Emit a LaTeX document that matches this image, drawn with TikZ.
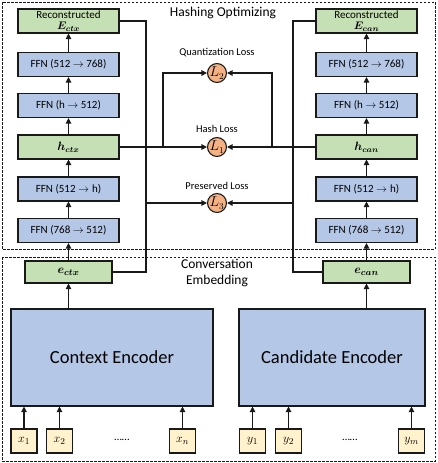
\documentclass[tikz,border=0pt]{standalone}
\usepackage{amsmath,amssymb,bm}
\usepackage{fontspec}
\setmainfont{Carlito}
\usepackage{tikz}
\usetikzlibrary{positioning,arrows.meta}
\usepackage{xcolor}

\definecolor{ffnblue}{HTML}{B4C7E7}
\definecolor{hashgreen}{HTML}{C5E0B4}
\definecolor{lossorange}{HTML}{F4B183}
\definecolor{tokyellow}{HTML}{FFF2CC}

\begin{document}
\begin{tikzpicture}[x=1pt,y=-1pt,>={Triangle[length=5.5pt,width=5.5pt]},line width=1.1pt,draw=black!90,
    ffn/.style={draw,fill=ffnblue,minimum width=101pt,minimum height=24pt,inner sep=0pt,
      font=\fontsize{11}{12}\selectfont},
    hashbox/.style={ffn,fill=hashgreen,align=center},
    embbox/.style={draw,fill=hashgreen,minimum width=87pt,minimum height=22pt,inner sep=0pt,
      font=\fontsize{12.5}{13}\selectfont},
    encbox/.style={draw,fill=ffnblue,minimum height=97pt,inner sep=0pt,
      font=\fontsize{18.5}{20}\selectfont},
    tok/.style={draw,fill=tokyellow,minimum width=26pt,minimum height=24pt,inner sep=0pt,
      font=\fontsize{12.5}{13}\selectfont},
    loss/.style={circle,draw,fill=lossorange,minimum size=18pt,inner sep=0pt,
      font=\fontsize{13.5}{13}\selectfont},
    losslabel/.style={font=\fontsize{10.5}{12}\selectfont},
    title/.style={font=\fontsize{13.5}{16}\selectfont,align=center},
    frame/.style={draw,line width=0.8pt,dash pattern=on 2.5pt off 1.5pt}]
  \useasboundingbox (0,0) rectangle (437,463);
  % dashed frames
  \draw[frame] (2,2) rectangle (435,249);
  \draw[frame] (2,257) rectangle (435,461);
  \node[title] (hashtitle) at (223,13) {Hashing Optimizing};
  \node[title] (embtitle) at (217,273) {Conversation\\Embedding};
  % two hashing columns
  \foreach \side/\cx/\sub in {C/68.5/ctx,K/366.5/can}{
    \node[hashbox] (rec\side) at (\cx,21) {Reconstructed\\[-1pt]$\bm{E}_{\bm{\sub}}$};
    \node[ffn] (fd\side) at (\cx,64.5) {FFN (512 $\rightarrow$ 768)};
    \node[ffn] (fc\side) at (\cx,105.5) {FFN ($\mathrm{h}$ $\rightarrow$ 512)};
    \node[hashbox] (h\side) at (\cx,147) {\fontsize{12}{12}\selectfont$\bm{h}_{\bm{\sub}}$};
    \node[ffn] (fb\side) at (\cx,189) {FFN (512 $\rightarrow\mathrm{h}$)};
    \node[ffn] (fa\side) at (\cx,230.5) {FFN (768 $\rightarrow$ 512)};
    \node[embbox] (e\side) at (\cx,272) {$\bm{e}_{\bm{\sub}}$};
    \draw[->] (e\side) -- (fa\side);
    \draw[->] (fa\side) -- (fb\side);
    \draw[->] (fb\side) -- (h\side);
    \draw[->] (h\side) -- (fc\side);
    \draw[->] (fc\side) -- (fd\side);
    \draw[->] (fd\side) -- (rec\side);
  }
  % encoders
  \node[encbox,minimum width=202pt] (encC) at (112,357.5) {Context Encoder};
  \node[encbox,minimum width=186pt] (encK) at (332,357.5) {Candidate Encoder};
  \draw[->] (eC |- encC.north) -- (eC.south);
  \draw[->] (eK |- encK.north) -- (eK.south);
  % input tokens
  \foreach \nm/\cx/\lab in {x1/24/x_1,x2/59.5/x_2,xn/182.5/x_n}{
    \node[tok] (\nm) at (\cx,441) {$\lab$};
    \draw[->] (\nm) -- (\nm |- encC.south);
  }
  \foreach \nm/\cx/\lab in {y1/252.5/y_1,y2/288.5/y_2,ym/411.5/y_m}{
    \node[tok] (\nm) at (\cx,441) {$\lab$};
    \draw[->] (\nm) -- (\nm |- encK.south);
  }
  \node[font=\fontsize{11}{12}\selectfont] (dotsx) at (122,440) {\ldots\ldots};
  \node[font=\fontsize{11}{12}\selectfont] (dotsy) at (350,440) {\ldots\ldots};
  % losses
  \node[loss] (Lq) at (217,73) {$L_2$};
  \node[loss] (Lh) at (217,147) {$L_1$};
  \node[loss] (Lp) at (217,203) {$L_3$};
  \node[losslabel] (Lqlab) at (217,53) {Quantization Loss};
  \node[losslabel] (Lhlab) at (217,129) {Hash Loss};
  \node[losslabel] (Lplab) at (217,186) {Preserved Loss};
  \coordinate (busC) at (146,0);
  \coordinate (busK) at (293,0);
  \coordinate (brC) at (163,0);
  \coordinate (brK) at (272,0);
  \draw (recC.east) -- (recC.east -| busC) -- (eC.east -| busC) -- (eC.east);
  \draw (recK.west) -- (recK.west -| busK) -- (eK.west -| busK) -- (eK.west);
  \draw[->] (Lp.west -| busC) -- (Lp.west);
  \draw[->] (Lp.east -| busK) -- (Lp.east);
  \draw[->] (hC.east) -- (Lh.west);
  \draw[->] (hK.west) -- (Lh.east);
  \draw[->] (hC.east -| brC) |- (Lq.west);
  \draw[->] (hK.west -| brK) |- (Lq.east);
\end{tikzpicture}
\end{document}
